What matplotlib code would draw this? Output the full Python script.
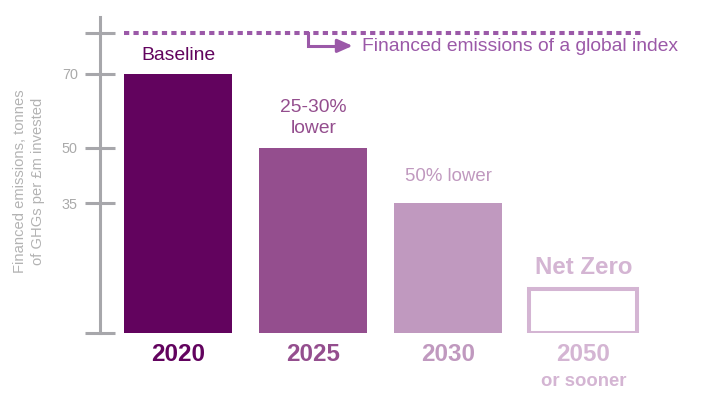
import matplotlib
matplotlib.use("Agg")
import matplotlib.pyplot as plt

plt.rcParams['font.family'] = ['Liberation Sans', 'DejaVu Sans']

# ---- data ----
years = ["2020", "2025", "2030", "2050"]
values = [70, 50, 35]                 # financed emissions (tonnes / £m)
netzero_box_height = 12               # outline box drawn for Net Zero target
global_index = 81                     # financed emissions of a global index
bar_labels = ["Baseline", "25-30%\nlower", "50% lower", "Net Zero"]
ytick_vals = [0, 35, 50, 70, 81]
ytick_labels = ["", "35", "50", "70", ""]
colors = ["#62035E", "#944E8E", "#C099BF", "#D4B5D3"]
index_color = "#9B59A8"
axis_color = "#A7A7AB"

W, H = 709, 396
fig = plt.figure(figsize=(W / 100, H / 100), dpi=100)
ax = fig.add_axes([100 / W, (H - 333) / H, 1 - 100 / W, 316 / H])

x = list(range(len(years)))
width = 0.8
ax.set_xlim(-0.581, 3.93)
ax.set_ylim(0, 85.4)

ax.bar(x[:3], values, width=width, color=colors[:3], zorder=2)
ax.bar([x[3]], [netzero_box_height], width=width, facecolor="white",
       edgecolor=colors[3], linewidth=2.9, zorder=2)

# spines / ticks
for s in ["top", "right", "bottom"]:
    ax.spines[s].set_visible(False)
ax.spines["left"].set_color(axis_color)
ax.spines["left"].set_linewidth(2.2)
ax.set_xticks([])
ax.set_yticks(ytick_vals)
ax.set_yticklabels(ytick_labels)
ax.tick_params(axis="y", direction="inout", length=21, width=2.2,
               color=axis_color, labelcolor="#AAAAAA", labelsize=10.4, pad=5.5)

fig.text(29 / W, (H - 181) / H, "Financed emissions, tonnes\nof GHGs per £m invested",
         color="#B3B3B3", fontsize=10.6, rotation=90, ha="center", va="center",
         linespacing=1.35, multialignment="center")

# global index dashed line
ax.plot([x[0] - width / 2, x[3] + width / 2 + 0.04], [global_index, global_index],
        color=index_color, linewidth=2.9, linestyle=(0, (1.3, 1.05)),
        solid_capstyle="butt", dash_capstyle="butt", zorder=3)
# arrow
ax.plot([0.96, 0.96, 1.2], [global_index, 77.6, 77.6], color=index_color,
        linewidth=2.2, solid_joinstyle="miter", zorder=3)
ax.annotate("", xy=(1.29, 77.6), xytext=(1.18, 77.6),
            arrowprops=dict(arrowstyle="-|>,head_length=0.9,head_width=0.4",
                            color=index_color, lw=2.2, shrinkA=0, shrinkB=0))
ax.text(1.36, 77.3, "Financed emissions of a global index", color=index_color,
        fontsize=13.9, va="center", ha="left")

# bar labels
tops = values + [netzero_box_height]
offsets = [7, 8, 13, 7]
weights = ["normal", "normal", "normal", "bold"]
sizes = [13.9, 13.9, 13.4, 17.3]
for i, (lab, t) in enumerate(zip(bar_labels, tops)):
    ax.annotate(lab, xy=(x[i], t), xytext=(0, offsets[i]), textcoords="offset points",
                ha="center", va="bottom", color=colors[i], fontsize=sizes[i],
                fontweight=weights[i], linespacing=1.3)

# year labels
for i, yr in enumerate(years):
    ax.annotate(yr, xy=(x[i], 0), xytext=(0, -7), textcoords="offset points",
                ha="center", va="top", color=colors[i], fontsize=17.4,
                fontweight="bold", annotation_clip=False)
ax.annotate("or sooner", xy=(x[3], 0), xytext=(0, -29), textcoords="offset points",
            ha="center", va="top", color=colors[3], fontsize=13.3,
            fontweight="bold", annotation_clip=False)

fig.savefig("out.png", dpi=100)
